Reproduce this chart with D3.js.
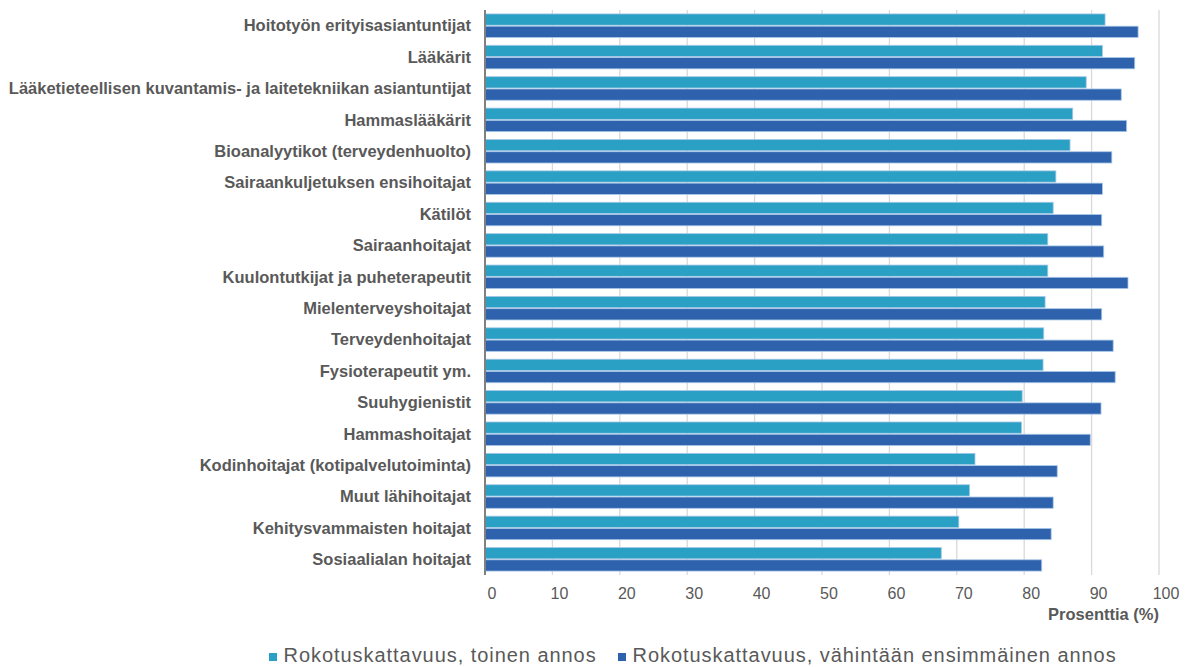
<!DOCTYPE html>
<html><head><meta charset="utf-8">
<script src="https://cdn.jsdelivr.net/npm/d3@7"></script>
<style>body{margin:0;background:#fff}svg{display:block}</style>
</head><body>
<svg id="c" width="1186" height="667"></svg>
<script>
const categories = [
  "Hoitotyön erityisasiantuntijat","Lääkärit",
  "Lääketieteellisen kuvantamis- ja laitetekniikan asiantuntijat","Hammaslääkärit",
  "Bioanalyytikot (terveydenhuolto)","Sairaankuljetuksen ensihoitajat","Kätilöt",
  "Sairaanhoitajat","Kuulontutkijat ja puheterapeutit","Mielenterveyshoitajat",
  "Terveydenhoitajat","Fysioterapeutit ym.","Suuhygienistit","Hammashoitajat",
  "Kodinhoitajat (kotipalvelutoiminta)","Muut lähihoitajat","Kehitysvammaisten hoitajat",
  "Sosiaalialan hoitajat"];
const secondDose = [92.0,91.6,89.2,87.2,86.8,84.7,84.3,83.5,83.5,83.1,82.9,82.8,79.7,79.6,72.7,71.9,70.3,67.7];
const firstDose  = [96.9,96.4,94.4,95.2,93.0,91.6,91.5,91.8,95.4,91.5,93.2,93.5,91.4,89.8,84.9,84.3,84.0,82.6];
const seriesNames = ["Rokotuskattavuus, toinen annos","Rokotuskattavuus, vähintään ensimmäinen annos"];
const xTicks = [0,10,20,30,40,50,60,70,80,90,100];
const axisTitle = "Prosenttia (%)";

(function(){
const colors = ["#2aa1c4","#2e62ad"];
const font = "Liberation Sans, Arial, sans-serif";
const svg = d3.select("#c");
const pLeft = 485, pRight = 1159, pTop = 10, pBottom = 575;
const x = d3.scaleLinear().domain([0,100]).range([pLeft,pRight]);
const y = d3.scaleBand().domain(categories).range([pTop,pBottom]).paddingInner(0.25).paddingOuter(0.125);
const sub = d3.scaleBand().domain([0,1]).range([0,y.bandwidth()]).paddingInner(0.08);

svg.append("g").selectAll("line").data(xTicks.filter(d=>d>0)).join("line")
  .attr("x1",d=>x(d)).attr("x2",d=>x(d)).attr("y1",pTop).attr("y2",pBottom)
  .attr("stroke","#d9d9d9").attr("stroke-width",1.3);

const rows = svg.append("g").selectAll("g").data(categories).join("g")
  .attr("transform",d=>`translate(0,${y(d)})`);
[secondDose,firstDose].forEach((arr,si)=>{
  rows.append("rect")
    .attr("x",x(0)).attr("y",sub(si))
    .attr("width",(d,i)=>x(arr[i])-x(0))
    .attr("height",sub.bandwidth())
    .attr("fill",colors[si])
    .attr("stroke","#a8c8e8").attr("stroke-width",0.8);
});

svg.append("line").attr("x1",pLeft).attr("x2",pLeft).attr("y1",pTop).attr("y2",pBottom)
  .attr("stroke","#808080").attr("stroke-width",2);

svg.append("g").selectAll("text").data(categories).join("text")
  .attr("x",471).attr("y",d=>y(d)+y.bandwidth()/2).attr("dy","0.35em")
  .attr("text-anchor","end").attr("font-family",font)
  .attr("font-weight","bold").attr("font-size",16.5).attr("fill","#595959").text(d=>d);

const xa = svg.append("g").attr("transform",`translate(0,${pBottom})`)
  .call(d3.axisBottom(x).tickValues(xTicks).tickSize(0).tickPadding(0));
xa.select(".domain").remove();
xa.selectAll("text").attr("font-family",font).attr("dy",null).attr("y",24)
  .attr("font-size",16).attr("fill","#595959").attr("dx",6.5);

svg.append("text").attr("x",pRight).attr("y",620).attr("text-anchor","end")
  .attr("font-family",font).attr("font-weight","bold")
  .attr("font-size",16.5).attr("fill","#595959").text(axisTitle);

const legX = [269,618];
const lg = svg.append("g").selectAll("g").data(seriesNames).join("g")
  .attr("transform",(d,i)=>`translate(${legX[i]},662)`);
lg.append("rect").attr("x",0).attr("y",-9).attr("width",8).attr("height",8)
  .attr("fill",(d,i)=>colors[i]);
lg.append("text").attr("x",14.5).attr("y",0)
  .attr("font-family",font).attr("font-size",20).attr("letter-spacing",0.95)
  .attr("fill","#595959").text(d=>d);
})();
</script>
</body></html>
